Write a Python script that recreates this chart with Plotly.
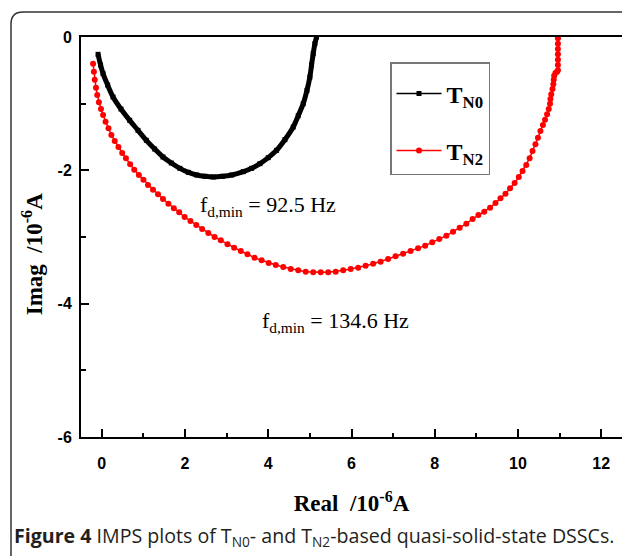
import plotly.graph_objects as go

# ---------------- data ----------------
tn0_real = [-0.09, -0.03, 0.03, 0.14, 0.27, 0.46, 0.67, 0.87, 1.07, 1.27, 1.47, 1.67, 1.875,
            2.08, 2.28, 2.48, 2.68, 2.90, 3.12, 3.40, 3.60, 3.80, 4.00, 4.20, 4.40, 4.60,
            4.72, 4.84, 4.93, 5.00, 5.04, 5.08, 5.12, 5.16]
tn0_imag = [-0.26, -0.42, -0.55, -0.72, -0.90, -1.08, -1.25, -1.40, -1.55, -1.68, -1.80, -1.89, -1.97,
            -2.03, -2.07, -2.09, -2.10, -2.09, -2.07, -2.02, -1.97, -1.90, -1.81, -1.70, -1.54, -1.35,
            -1.18, -1.00, -0.80, -0.60, -0.42, -0.25, -0.10, 0.0]

tn2_real = [-0.21, -0.19, -0.17, -0.14, -0.11, -0.07, -0.02, 0.03, 0.09, 0.16, 0.23, 0.31, 0.40,
            0.49, 0.58, 0.68, 0.78, 0.89, 1.00, 1.11, 1.23, 1.35, 1.47, 1.60, 1.73, 1.86, 1.99,
            2.13, 2.27, 2.41, 2.56, 2.71, 2.86, 3.02, 3.18, 3.34, 3.50, 3.67, 3.84, 4.01, 4.18,
            4.36, 4.54, 4.72, 4.90, 5.08, 5.26, 5.44, 5.62, 5.80, 5.98, 6.16, 6.34, 6.52, 6.70,
            6.88, 7.06, 7.24, 7.42, 7.60, 7.77, 7.94, 8.11, 8.28, 8.44, 8.60, 8.76, 8.91, 9.05,
            9.19, 9.33, 9.46, 9.58, 9.70, 9.81, 9.92, 10.02, 10.11, 10.20, 10.28, 10.35, 10.42,
            10.48, 10.54, 10.60, 10.65, 10.70, 10.74, 10.77, 10.78, 10.80, 10.83, 10.85, 10.86,
            10.87, 10.90, 10.94, 10.96, 10.96, 10.96, 10.96, 10.96, 10.96, 10.96, 10.96]
tn2_imag = [-0.40, -0.52, -0.64, -0.76, -0.87, -0.98, -1.08, -1.17, -1.27, -1.37, -1.47, -1.56, -1.65,
            -1.74, -1.82, -1.91, -1.99, -2.07, -2.14, -2.22, -2.29, -2.36, -2.43, -2.50, -2.57, -2.63, -2.70,
            -2.76, -2.82, -2.88, -2.94, -3.00, -3.05, -3.11, -3.16, -3.21, -3.26, -3.31, -3.35, -3.39, -3.42,
            -3.45, -3.48, -3.50, -3.52, -3.53, -3.53, -3.53, -3.52, -3.50, -3.48, -3.46, -3.43, -3.40, -3.37,
            -3.33, -3.29, -3.25, -3.21, -3.17, -3.13, -3.08, -3.03, -2.98, -2.92, -2.86, -2.80, -2.73, -2.67,
            -2.62, -2.56, -2.49, -2.42, -2.35, -2.27, -2.19, -2.10, -2.01, -1.92, -1.82, -1.71, -1.61,
            -1.51, -1.41, -1.32, -1.24, -1.16, -1.08, -1.00, -0.93, -0.86, -0.78, -0.71, -0.64,
            -0.58, -0.54, -0.52, -0.50, -0.42, -0.34, -0.26, -0.18, -0.10, -0.02, 0.0]

x_ticks = [0, 2, 4, 6, 8, 10, 12]
x_tick_text = ["0", "2", "4", "6", "8", "10", "12"]
y_ticks = [-6, -4, -2, 0]
y_tick_text = ["-6", "-4", "-2", "0"]

# ---------------- layout geometry ----------------
W, H = 622, 556
ML, MR, MT, MB = 81, 0, 37, 119
PW, PH = W - ML - MR, H - MT - MB


def px(xp):
    return (xp - ML) / PW


def py(yp):
    return (H - MB - yp) / PH


serif = "Liberation Serif"
sans = "Liberation Sans"

fig = go.Figure()
# thick measured curve for T_N0 (legend drawn by a thin-line entry of the same group)
fig.add_trace(go.Scatter(
    x=tn0_real, y=tn0_imag, name="T<sub>N0</sub>", legendgroup="a", showlegend=False,
    mode="lines+markers", line=dict(color="black", width=5, shape="spline"),
    marker=dict(symbol="square", size=5, color="black"),
))
fig.add_trace(go.Scatter(
    x=[None], y=[None], name="T<sub>N0</sub>", legendgroup="a",
    mode="lines+markers", line=dict(color="black", width=1.5),
    marker=dict(symbol="square", size=5, color="black"),
))
fig.add_trace(go.Scatter(
    x=tn2_real, y=tn2_imag, name="T<sub>N2</sub>", legendgroup="b",
    mode="lines+markers", line=dict(color="#ff0000", width=1.5),
    marker=dict(symbol="circle", size=6, color="#ff0000"),
))

axis_common = dict(
    showline=True, linecolor="black", linewidth=2, ticks="inside", tickcolor="black",
    tickwidth=2, ticklen=8, showgrid=False, zeroline=False,
    tickfont=dict(family=sans, size=16, color="black", weight="bold"),
)

fig.update_xaxes(
    range=[-0.5, 12.5], tickvals=x_ticks, ticktext=x_tick_text, mirror=True,
    minor=dict(dtick=1, tick0=0, ticks="inside", ticklen=4, tickwidth=2, tickcolor="black"),
    title=dict(text="Real  /10<sup>-6</sup>A", font=dict(family=serif, size=23, color="black", weight="bold"),
               standoff=24),
    ticklabelstandoff=11,
    **axis_common,
)
fig.update_yaxes(
    range=[-6, 0], tickvals=y_ticks, ticktext=y_tick_text, mirror=False,
    minor=dict(dtick=1, tick0=0, ticks="inside", ticklen=5, tickwidth=2, tickcolor="black"),
    title=dict(text="Imag  /10<sup>-6</sup>A" + "&nbsp;" * 6,
               font=dict(family=serif, size=23, color="black", weight="bold"),
               standoff=9),
    ticklabelstandoff=4,
    **axis_common,
)

annotations = [
    dict(x=2.31, y=-2.53, xref="x", yref="y", xanchor="left", yanchor="middle", showarrow=False,
         text="f<sub>d,min</sub> = 92.5 Hz", font=dict(family=serif, size=22, color="black")),
    dict(x=3.80, y=-4.27, xref="x", yref="y", xanchor="left", yanchor="middle", showarrow=False,
         text="f<sub>d,min</sub> = 134.6 Hz", font=dict(family=serif, size=22, color="black")),
    dict(x=px(12), y=py(536), xref="paper", yref="paper", xanchor="left", yanchor="middle", showarrow=False,
         text="<b>Figure 4</b> IMPS plots of T<sub>N0</sub>- and T<sub>N2</sub>-based quasi-solid-state DSSCs.",
         font=dict(family="Open Sans", size=19.6, color="#231f20")),
]

# rounded outer frame (top-left corner visible, others cut by the image edge)
r = 12
frame_path = (f"M {px(11)},{py(560)} L {px(11)},{py(12 + r)} "
              f"Q {px(11)},{py(12)} {px(11 + r)},{py(12)} L {px(630)},{py(12)}")

fig.update_layout(
    width=W, height=H, margin=dict(l=ML, r=MR, t=MT, b=MB),
    paper_bgcolor="white", plot_bgcolor="white",
    showlegend=True,
    legend=dict(x=px(390), y=py(62), xanchor="left", yanchor="top",
                bordercolor="#777777", borderwidth=1.5, bgcolor="white",
                font=dict(family=serif, size=24, color="black", weight="bold"),
                title=dict(text=" ", font=dict(size=6)),
                tracegroupgap=23, itemwidth=45),
    annotations=annotations,
    shapes=[dict(type="path", xref="paper", yref="paper", path=frame_path,
                 line=dict(color="#333333", width=1.5))],
)

fig.write_html("out.html", config={"displayModeBar": False},
               post_script="document.body.style.margin='0';document.body.style.overflow='hidden';")
